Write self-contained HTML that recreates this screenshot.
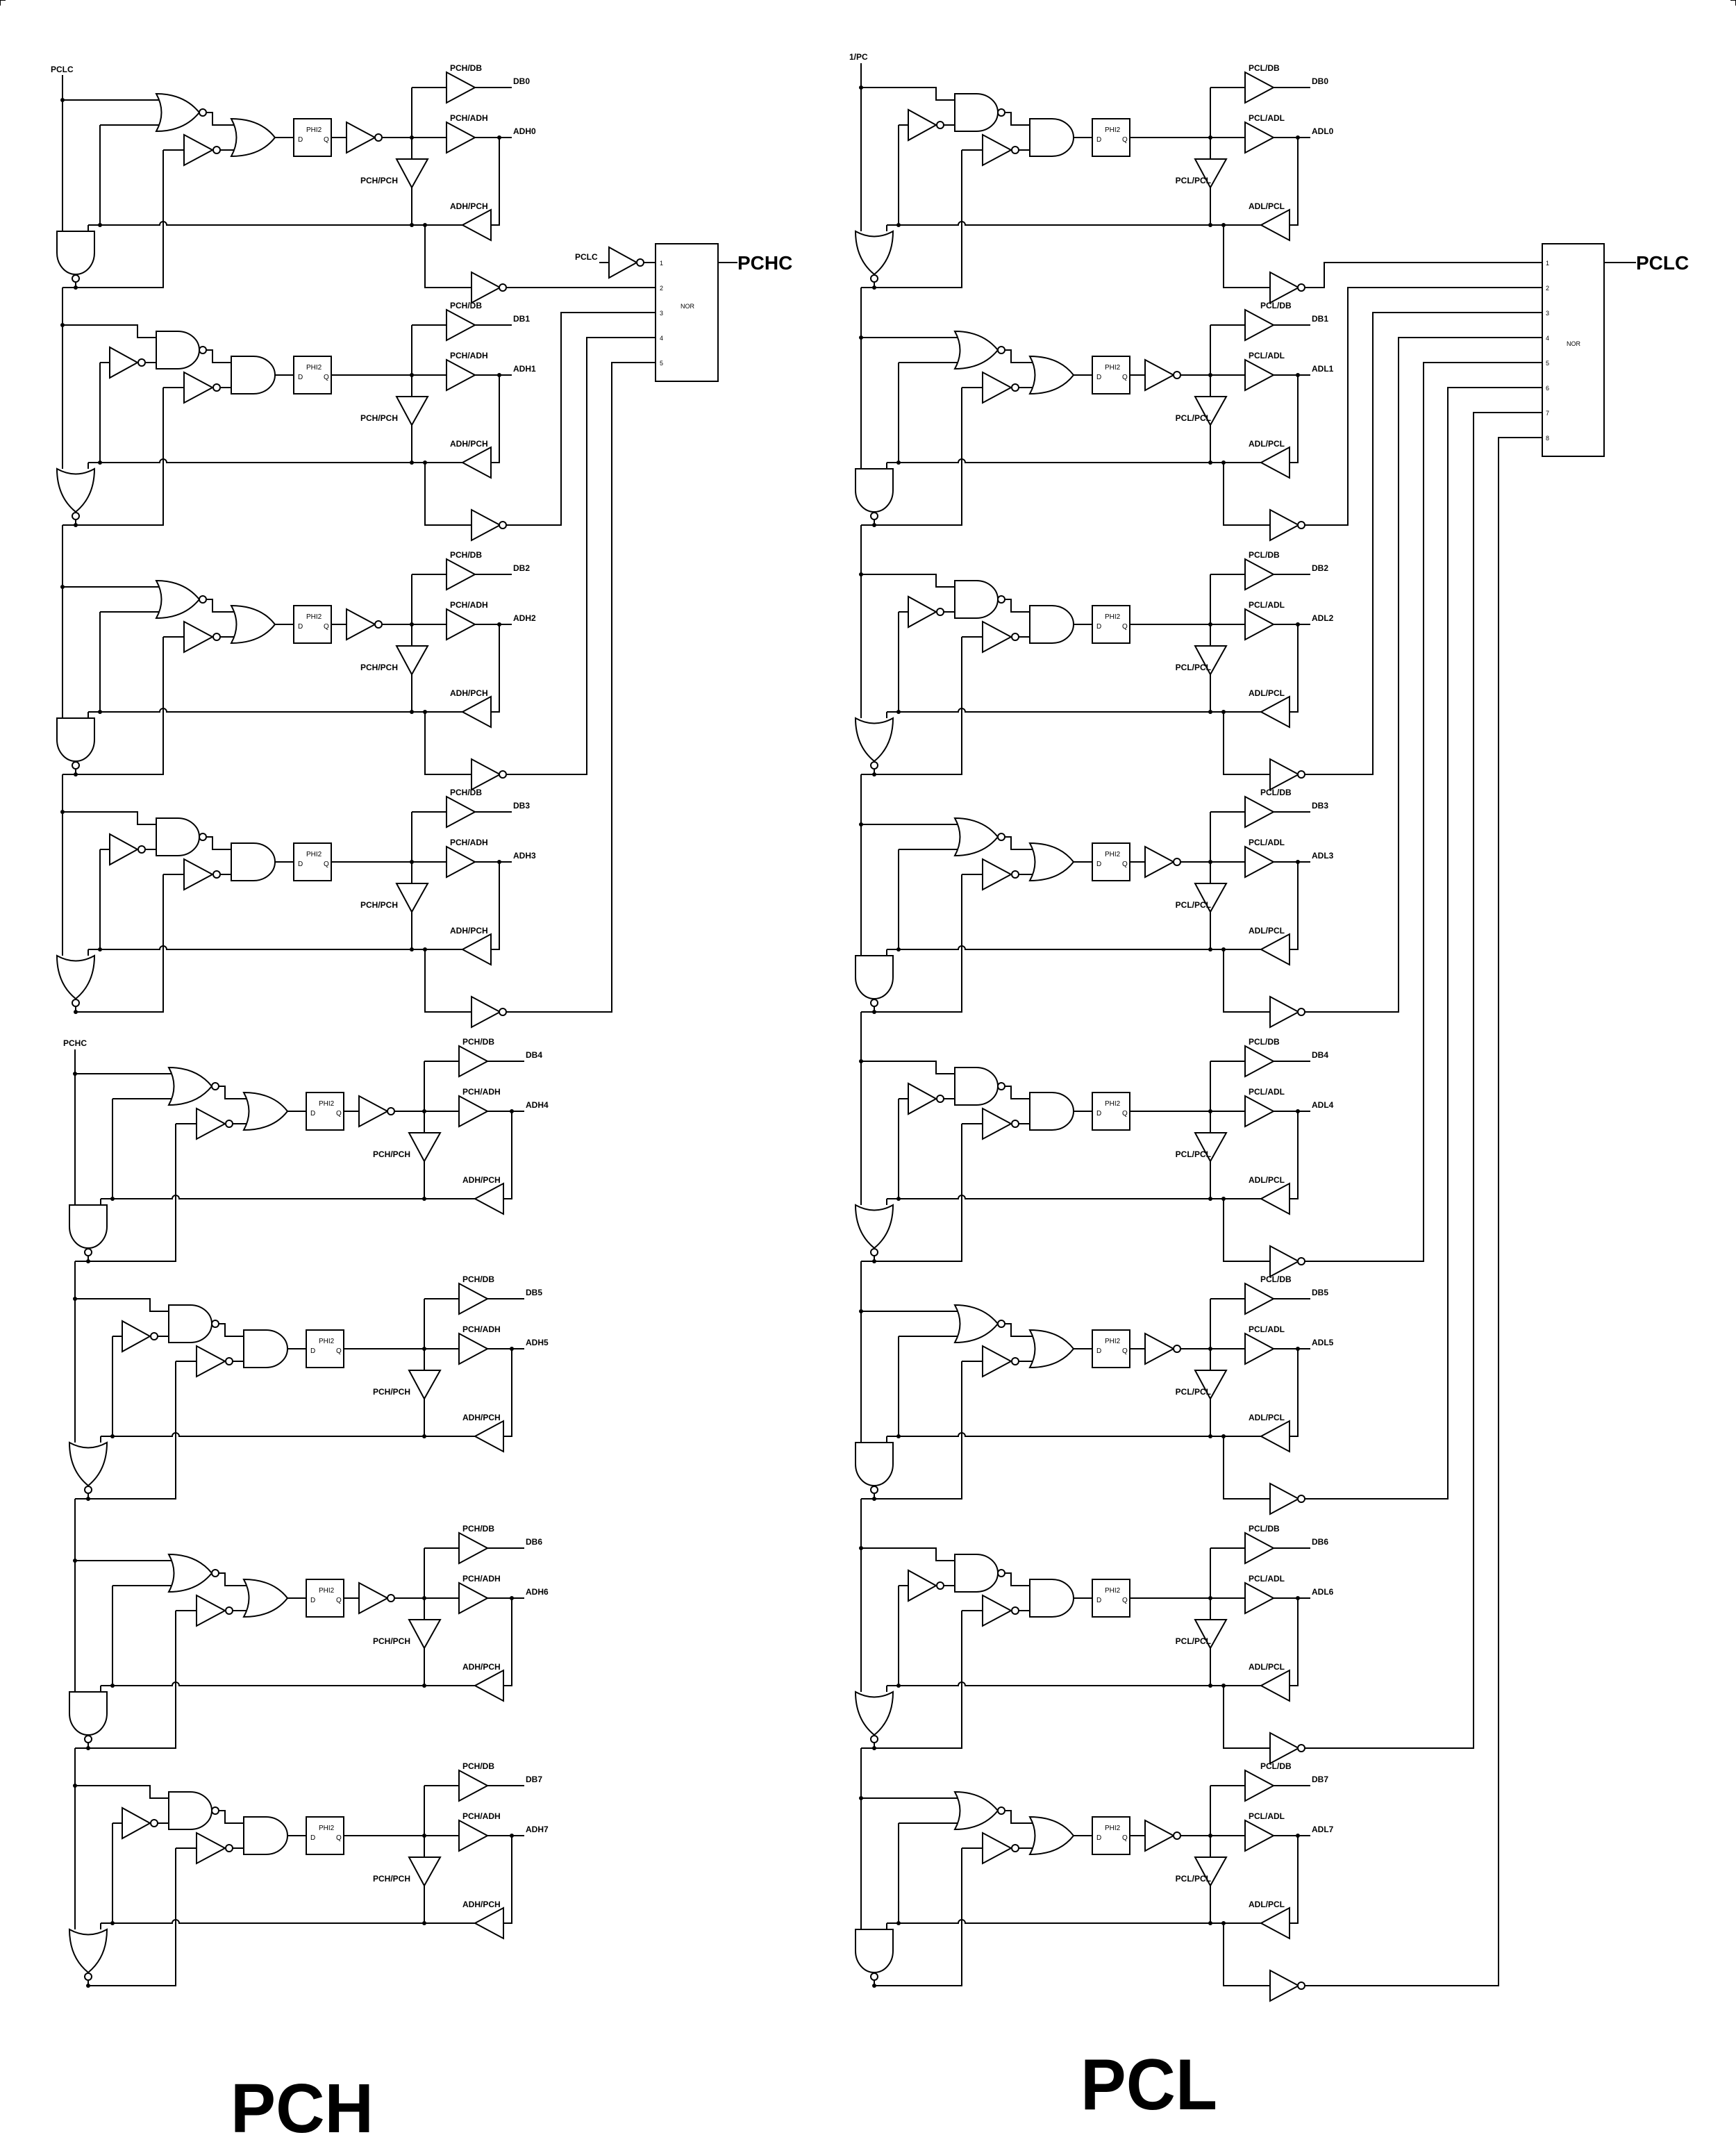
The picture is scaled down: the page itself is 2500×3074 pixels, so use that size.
<!DOCTYPE html>
<html><head><meta charset="utf-8"><style>
html,body{margin:0;padding:0;background:#fff}
svg{display:block}
text{font-family:"Liberation Sans",Arial,sans-serif;fill:#000}
.l{font-size:12px;font-weight:bold}
.s{font-size:9px}
.f{font-size:10px}
</style></head><body>
<svg width="2500" height="3074" viewBox="0 0 2500 3074" xmlns="http://www.w3.org/2000/svg" xmlns:xlink="http://www.w3.org/1999/xlink">
<defs>
<g id="c">
<path fill="none" stroke="#000" stroke-width="2" d="M207,-36H216V-18H250 M227,18H250 M145,18H175 M306,0H333 M503,-72V126 M503,-72H553 M503,0H553 M594,-72H647 M594,0H647 M629,0V126H617 M54,-18V126 M37,126H140A5,5 0 0 1 150,126H576 M37,126V135 M19,208V216 M19,216H145V18"/>
<g fill="#fff" stroke="#000" stroke-width="2">
<rect x="333" y="-27" width="54" height="54"/>
<polygon points="175,-4 175,40 216,18"/><circle cx="222" cy="18" r="5"/>
<polygon points="553,-94 553,-50 594,-72"/>
<polygon points="553,-22 553,22 594,0"/>
<polygon points="617,104 617,148 576,126"/>
<polygon points="481,31 526,31 503,72"/>
</g>
<g fill="#000"><circle cx="54" cy="126" r="3"/><circle cx="503" cy="126" r="3"/><circle cx="503" cy="0" r="3"/><circle cx="629" cy="0" r="3"/><circle cx="19" cy="216" r="3"/></g>
</g>
<g id="A">
<path fill="none" stroke="#000" stroke-width="2" d="M0,-54H145 M54,-18H145 M387,0H409 M460,0H503"/>
<use xlink:href="#c"/>
<g fill="#fff" stroke="#000" stroke-width="2">
<path d="M135,-63Q175,-63 197,-36Q175,-9 135,-9Q150,-36 135,-63Z"/><circle cx="202" cy="-36" r="5"/>
<path d="M243,-27Q285,-27 306,0Q285,27 243,27Q258,0 243,-27Z"/>
<polygon points="409,-22 409,22 450,0"/><circle cx="455" cy="0" r="5"/>
<path d="M-8,135H46V166A27,31 0 0 1 -8,166Z"/><circle cx="19" cy="203" r="5"/>
</g>
<circle cx="0" cy="-54" r="3" fill="#000"/>
</g>
<g id="B">
<path fill="none" stroke="#000" stroke-width="2" d="M0,-72H108V-54H140 M54,-18H68 M119,-18H140 M387,0H503"/>
<use xlink:href="#c"/>
<g fill="#fff" stroke="#000" stroke-width="2">
<polygon points="68,-40 68,4 108,-18"/><circle cx="114" cy="-18" r="5"/>
<path d="M135,-63H166A31,27 0 0 1 166,-9H135Z"/><circle cx="202" cy="-36" r="5"/>
<path d="M243,-27H275A31,27 0 0 1 275,27H243Z"/>
<path d="M-8,135Q19,150 46,135Q46,175 19,197Q-8,175 -8,135Z"/><circle cx="19" cy="203" r="5"/>
</g>
<circle cx="0" cy="-72" r="3" fill="#000"/>
</g>
<g id="o">
<path fill="none" stroke="#000" stroke-width="2" d="M522,126V216H589"/>
<polygon points="589,194 589,238 630,216" fill="#fff" stroke="#000" stroke-width="2"/>
<circle cx="634" cy="216" r="5" fill="#fff" stroke="#000" stroke-width="2"/>
<circle cx="522" cy="126" r="3" fill="#000"/>
</g>
</defs>

<path d="M0,8V0H8 M2492,0H2500V8" stroke="#000" stroke-width="2" fill="none"/>

<path fill="none" stroke="#000" stroke-width="2" d="
M90,108V333 M90,414V675 M90,756V1034 M90,1115V1376 M90,414H109 M90,756H109 M90,1115H109
M108,1511V1735 M108,1816V2077 M108,2158V2436 M108,2517V2778 M108,1816H127 M108,2158H127 M108,2517H127
M1240,91V333 M1240,414V675 M1240,756V1034 M1240,1115V1376 M1240,1457V1735 M1240,1816V2077 M1240,2158V2436 M1240,2517V2778
M1240,414H1259 M1240,756H1259 M1240,1115H1259 M1240,1457H1259 M1240,1816H1259 M1240,2158H1259 M1240,2517H1259
M729,414H944 M729,756H808V450H944 M729,1115H845V486H944 M729,1457H881V522H944
M1879,414H1907V378H2221 M1879,756H1941V414H2221 M1879,1115H1977V450H2221 M1879,1457H2014V486H2221
M1879,1816H2050V522H2221 M1879,2158H2085V558H2221 M1879,2517H2122V594H2221 M1879,2859H2158V630H2221
M863,378H877 M927,378H944 M1034,378H1062 M2310,378H2356"/>

<g transform="translate(90,198)"><use xlink:href="#A"/><use xlink:href="#o"/></g>
<g transform="translate(90,540)"><use xlink:href="#B"/><use xlink:href="#o"/></g>
<g transform="translate(90,899)"><use xlink:href="#A"/><use xlink:href="#o"/></g>
<g transform="translate(90,1241)"><use xlink:href="#B"/><use xlink:href="#o"/></g>
<g transform="translate(108,1600)"><use xlink:href="#A"/></g>
<g transform="translate(108,1942)"><use xlink:href="#B"/></g>
<g transform="translate(108,2301)"><use xlink:href="#A"/></g>
<g transform="translate(108,2643)"><use xlink:href="#B"/></g>
<g transform="translate(1240,198)"><use xlink:href="#B"/><use xlink:href="#o"/></g>
<g transform="translate(1240,540)"><use xlink:href="#A"/><use xlink:href="#o"/></g>
<g transform="translate(1240,899)"><use xlink:href="#B"/><use xlink:href="#o"/></g>
<g transform="translate(1240,1241)"><use xlink:href="#A"/><use xlink:href="#o"/></g>
<g transform="translate(1240,1600)"><use xlink:href="#B"/><use xlink:href="#o"/></g>
<g transform="translate(1240,1942)"><use xlink:href="#A"/><use xlink:href="#o"/></g>
<g transform="translate(1240,2301)"><use xlink:href="#B"/><use xlink:href="#o"/></g>
<g transform="translate(1240,2643)"><use xlink:href="#A"/><use xlink:href="#o"/></g>

<!-- DFF labels -->
<g class="f">
<g transform="translate(90,198)"><text x="351" y="-8">PHI2</text><text x="339" y="6">D</text><text x="376" y="6">Q</text></g>
<g transform="translate(90,540)"><text x="351" y="-8">PHI2</text><text x="339" y="6">D</text><text x="376" y="6">Q</text></g>
<g transform="translate(90,899)"><text x="351" y="-8">PHI2</text><text x="339" y="6">D</text><text x="376" y="6">Q</text></g>
<g transform="translate(90,1241)"><text x="351" y="-8">PHI2</text><text x="339" y="6">D</text><text x="376" y="6">Q</text></g>
<g transform="translate(108,1600)"><text x="351" y="-8">PHI2</text><text x="339" y="6">D</text><text x="376" y="6">Q</text></g>
<g transform="translate(108,1942)"><text x="351" y="-8">PHI2</text><text x="339" y="6">D</text><text x="376" y="6">Q</text></g>
<g transform="translate(108,2301)"><text x="351" y="-8">PHI2</text><text x="339" y="6">D</text><text x="376" y="6">Q</text></g>
<g transform="translate(108,2643)"><text x="351" y="-8">PHI2</text><text x="339" y="6">D</text><text x="376" y="6">Q</text></g>
<g transform="translate(1240,198)"><text x="351" y="-8">PHI2</text><text x="339" y="6">D</text><text x="376" y="6">Q</text></g>
<g transform="translate(1240,540)"><text x="351" y="-8">PHI2</text><text x="339" y="6">D</text><text x="376" y="6">Q</text></g>
<g transform="translate(1240,899)"><text x="351" y="-8">PHI2</text><text x="339" y="6">D</text><text x="376" y="6">Q</text></g>
<g transform="translate(1240,1241)"><text x="351" y="-8">PHI2</text><text x="339" y="6">D</text><text x="376" y="6">Q</text></g>
<g transform="translate(1240,1600)"><text x="351" y="-8">PHI2</text><text x="339" y="6">D</text><text x="376" y="6">Q</text></g>
<g transform="translate(1240,1942)"><text x="351" y="-8">PHI2</text><text x="339" y="6">D</text><text x="376" y="6">Q</text></g>
<g transform="translate(1240,2301)"><text x="351" y="-8">PHI2</text><text x="339" y="6">D</text><text x="376" y="6">Q</text></g>
<g transform="translate(1240,2643)"><text x="351" y="-8">PHI2</text><text x="339" y="6">D</text><text x="376" y="6">Q</text></g>
</g>

<g fill="#fff" stroke="#000" stroke-width="2">
<rect x="944" y="351" width="90" height="198"/>
<polygon points="877,356 877,400 917,378"/><circle cx="922" cy="378" r="5"/>
<rect x="2221" y="351" width="89" height="306"/>
</g>
<g class="s">
<text x="950" y="382">1</text><text x="950" y="418">2</text><text x="950" y="454">3</text><text x="950" y="490">4</text><text x="950" y="526">5</text>
<text x="980" y="444">NOR</text>
<text x="2226" y="382">1</text><text x="2226" y="418">2</text><text x="2226" y="454">3</text><text x="2226" y="490">4</text><text x="2226" y="526">5</text><text x="2226" y="562">6</text><text x="2226" y="598">7</text><text x="2226" y="634">8</text>
<text x="2256" y="498">NOR</text>
</g>
<text class="l" x="828" y="374">PCLC</text>
<text x="1062" y="388" style="font-size:28px;font-weight:bold">PCHC</text>
<text x="2356" y="388" style="font-size:28px;font-weight:bold">PCLC</text>

<text class="l" x="73" y="104">PCLC</text>
<text class="l" x="1223" y="86">1/PC</text>
<text class="l" x="91" y="1506">PCHC</text>

<g class="l">
<text x="648" y="102">PCH/DB</text><text x="739" y="121">DB0</text><text x="648" y="174">PCH/ADH</text><text x="739" y="193">ADH0</text><text x="573" y="264" text-anchor="end">PCH/PCH</text><text x="648" y="301">ADH/PCH</text>
<text x="648" y="444">PCH/DB</text><text x="739" y="463">DB1</text><text x="648" y="516">PCH/ADH</text><text x="739" y="535">ADH1</text><text x="573" y="606" text-anchor="end">PCH/PCH</text><text x="648" y="643">ADH/PCH</text>
<text x="648" y="803">PCH/DB</text><text x="739" y="822">DB2</text><text x="648" y="875">PCH/ADH</text><text x="739" y="894">ADH2</text><text x="573" y="965" text-anchor="end">PCH/PCH</text><text x="648" y="1002">ADH/PCH</text>
<text x="648" y="1145">PCH/DB</text><text x="739" y="1164">DB3</text><text x="648" y="1217">PCH/ADH</text><text x="739" y="1236">ADH3</text><text x="573" y="1307" text-anchor="end">PCH/PCH</text><text x="648" y="1344">ADH/PCH</text>
<text x="666" y="1504">PCH/DB</text><text x="757" y="1523">DB4</text><text x="666" y="1576">PCH/ADH</text><text x="757" y="1595">ADH4</text><text x="591" y="1666" text-anchor="end">PCH/PCH</text><text x="666" y="1703">ADH/PCH</text>
<text x="666" y="1846">PCH/DB</text><text x="757" y="1865">DB5</text><text x="666" y="1918">PCH/ADH</text><text x="757" y="1937">ADH5</text><text x="591" y="2008" text-anchor="end">PCH/PCH</text><text x="666" y="2045">ADH/PCH</text>
<text x="666" y="2205">PCH/DB</text><text x="757" y="2224">DB6</text><text x="666" y="2277">PCH/ADH</text><text x="757" y="2296">ADH6</text><text x="591" y="2367" text-anchor="end">PCH/PCH</text><text x="666" y="2404">ADH/PCH</text>
<text x="666" y="2547">PCH/DB</text><text x="757" y="2566">DB7</text><text x="666" y="2619">PCH/ADH</text><text x="757" y="2638">ADH7</text><text x="591" y="2709" text-anchor="end">PCH/PCH</text><text x="666" y="2746">ADH/PCH</text>
</g>
<g class="l">
<text x="1798" y="102">PCL/DB</text><text x="1889" y="121">DB0</text><text x="1798" y="174">PCL/ADL</text><text x="1889" y="193">ADL0</text><text x="1744" y="264" text-anchor="end">PCL/PCL</text><text x="1798" y="301">ADL/PCL</text>
<text x="1815" y="444">PCL/DB</text><text x="1889" y="463">DB1</text><text x="1798" y="516">PCL/ADL</text><text x="1889" y="535">ADL1</text><text x="1744" y="606" text-anchor="end">PCL/PCL</text><text x="1798" y="643">ADL/PCL</text>
<text x="1798" y="803">PCL/DB</text><text x="1889" y="822">DB2</text><text x="1798" y="875">PCL/ADL</text><text x="1889" y="894">ADL2</text><text x="1744" y="965" text-anchor="end">PCL/PCL</text><text x="1798" y="1002">ADL/PCL</text>
<text x="1815" y="1145">PCL/DB</text><text x="1889" y="1164">DB3</text><text x="1798" y="1217">PCL/ADL</text><text x="1889" y="1236">ADL3</text><text x="1744" y="1307" text-anchor="end">PCL/PCL</text><text x="1798" y="1344">ADL/PCL</text>
<text x="1798" y="1504">PCL/DB</text><text x="1889" y="1523">DB4</text><text x="1798" y="1576">PCL/ADL</text><text x="1889" y="1595">ADL4</text><text x="1744" y="1666" text-anchor="end">PCL/PCL</text><text x="1798" y="1703">ADL/PCL</text>
<text x="1815" y="1846">PCL/DB</text><text x="1889" y="1865">DB5</text><text x="1798" y="1918">PCL/ADL</text><text x="1889" y="1937">ADL5</text><text x="1744" y="2008" text-anchor="end">PCL/PCL</text><text x="1798" y="2045">ADL/PCL</text>
<text x="1798" y="2205">PCL/DB</text><text x="1889" y="2224">DB6</text><text x="1798" y="2277">PCL/ADL</text><text x="1889" y="2296">ADL6</text><text x="1744" y="2367" text-anchor="end">PCL/PCL</text><text x="1798" y="2404">ADL/PCL</text>
<text x="1815" y="2547">PCL/DB</text><text x="1889" y="2566">DB7</text><text x="1798" y="2619">PCL/ADL</text><text x="1889" y="2638">ADL7</text><text x="1744" y="2709" text-anchor="end">PCL/PCL</text><text x="1798" y="2746">ADL/PCL</text>
</g>

<text x="332" y="3070" textLength="206" lengthAdjust="spacingAndGlyphs" style="font-size:100px;font-weight:bold">PCH</text>
<text x="1556" y="3037" textLength="197" lengthAdjust="spacingAndGlyphs" style="font-size:104px;font-weight:bold">PCL</text>
</svg>
</body></html>
